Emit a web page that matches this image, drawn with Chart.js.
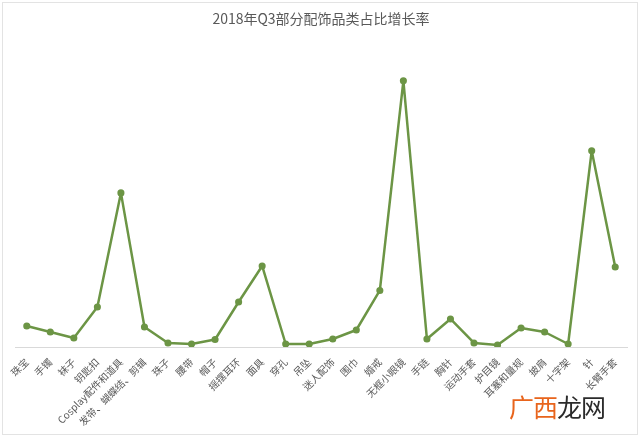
<!DOCTYPE html>
<html lang="zh">
<head>
<meta charset="utf-8">
<title>2018年Q3部分配饰品类占比增长率</title>
<script src="https://cdn.jsdelivr.net/npm/chart.js@4/dist/chart.umd.min.js"></script>
<style>
html, body { margin: 0; padding: 0; background: #fff; }
#wrap { position: relative; width: 640px; height: 437px; overflow: hidden; }
#frame { position: absolute; left: 2px; top: 2px; right: 2px; bottom: 2px; border: 1px solid #e3e3e3; pointer-events: none; }
#mark { position: absolute; left: 509px; top: 391px; font-family: "Noto Sans CJK SC", sans-serif; font-size: 25px; letter-spacing: -1px; line-height: 1.2; }
#mark .a { color: #e8641c; }
#mark .b { color: #2b2b2b; }
</style>
</head>
<body>
<div id="wrap">
<canvas id="c" width="640" height="437"></canvas>
<div id="frame"></div>
<div id="mark"><span class="a">广西</span><span class="b">龙网</span></div>
</div>
<script>
const categories = ['珠宝', '手镯', '袜子', '钥匙扣', 'Cosplay配件和道具', '发带、蝴蝶结、剪辑', '珠子', '腰带', '帽子',
  '摇摆耳环', '面具', '穿孔', '吊坠', '迷人配饰', '围巾', '婚戒', '无框小眼镜', '手链', '胸针', '运动手套',
  '护目镜', '耳塞和量规', '披肩', '十字架', '针', '长臂手套'];
const growth = [21, 15, 9, 40, 154, 20, 4, 3, 7.5, 45, 81, 3, 3, 8, 17, 56.5, 266, 8, 28, 4, 2, 19, 15, 3, 196, 80];
const yMin = 0;
const yMax = 300;

const green = '#6c9545';

new Chart('c', {
  type: 'line',
  data: {
    labels: categories,
    datasets: [{
      label: '占比增长率',
      data: growth,
      borderColor: green,
      backgroundColor: green,
      borderWidth: 2.5,
      borderJoinStyle: 'round',
      pointRadius: 2.3,
      pointBackgroundColor: green,
      pointBorderColor: green,
      tension: 0
    }]
  },
  options: {
    responsive: false,
    devicePixelRatio: 1,
    animation: false,
    layout: { padding: { left: 15, right: 13, top: 0, bottom: 0 } },
    plugins: {
      legend: { display: false },
      tooltip: { enabled: false },
      title: {
        display: true,
        text: '2018年Q3部分配饰品类占比增长率',
        color: '#595959',
        font: { family: '"Noto Sans CJK SC", sans-serif', size: 14, weight: 'normal' },
        padding: { top: 10, bottom: 20 }
      }
    },
    scales: {
      x: {
        offset: true,
        grid: { display: false, drawTicks: false },
        border: { display: true, color: '#d9d9d9', width: 1 },
        ticks: {
          autoSkip: false,
          minRotation: 45,
          maxRotation: 45,
          padding: 9,
          color: '#595959',
          font: { family: '"Noto Sans CJK SC", sans-serif', size: 10 }
        },
        afterFit: function(scale) { scale.height = 90; }
      },
      y: {
        display: false,
        min: yMin,
        max: yMax
      }
    }
  }
});
</script>
</body>
</html>
